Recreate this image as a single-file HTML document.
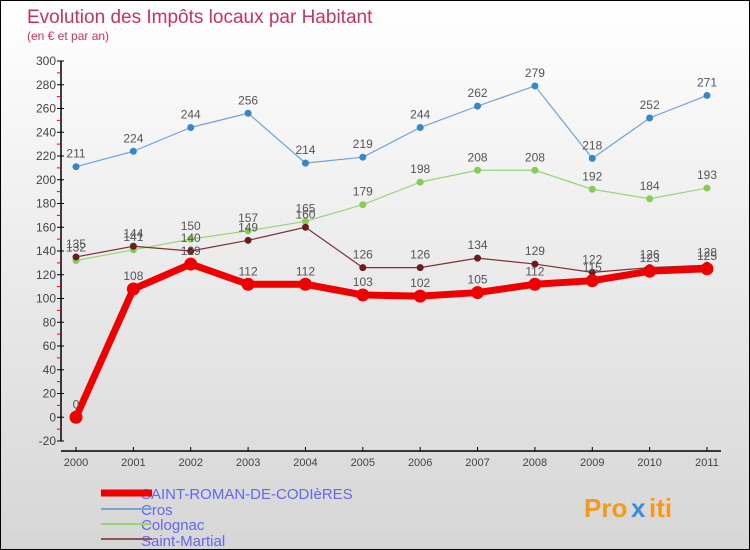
<!DOCTYPE html>
<html><head><meta charset="utf-8"><style>
body{margin:0}
#c{width:750px;height:550px;position:relative;overflow:hidden;background:linear-gradient(#ffffff,#d6d6d6);box-sizing:border-box;border:1px solid #000;font-family:"Liberation Sans",sans-serif}
svg text{font-family:"Liberation Sans",sans-serif}
</style></head><body>
<div id="c">
<svg id="s" width="750" height="550" style="position:absolute;left:0;top:0">
<text x="26" y="22" font-size="19" fill="#c8335e">Evolution des Impôts locaux par Habitant</text>
<text x="26" y="39" font-size="12" fill="#c8335e">(en € et par an)</text>
<g id="ax"></g><g id="ser"></g>
<text x="140" y="498" font-size="15" fill="#6666ee">SAINT-ROMAN-DE-CODIèRES</text>
<text x="140" y="514" font-size="15" fill="#6666ee">Cros</text>
<text x="140" y="529" font-size="15" fill="#6666ee">Colognac</text>
<text x="140" y="545" font-size="15" fill="#6666ee">Saint-Martial</text>
<line x1="100" y1="492" x2="151" y2="492" stroke="#ee0000" stroke-width="7"/>
<line x1="100" y1="508" x2="151" y2="508" stroke="#7aa6cc" stroke-width="2"/>
<line x1="100" y1="523" x2="151" y2="523" stroke="#99d477" stroke-width="2"/>
<line x1="100" y1="538" x2="151" y2="538" stroke="#8a5555" stroke-width="2"/>
<g font-size="26" font-weight="bold">
<text x="583" y="516" fill="#f39a1e">Pro</text><text x="630" y="516" fill="#3a8fd8">x</text><text x="648" y="516" fill="#f39a1e">iti</text></g>
</svg>
</div>
<script>
const years=[2000,2001,2002,2003,2004,2005,2006,2007,2008,2009,2010,2011];
const yTicks=[-20,0,20,40,60,80,100,120,140,160,180,200,220,240,260,280,300];
const saintRoman=[0,108,129,112,112,103,102,105,112,115,123,125];
const cros=[211,224,244,256,214,219,244,262,279,218,252,271];
const colognac=[132,141,150,157,165,179,198,208,208,192,184,193];
const saintMartial=[135,144,140,149,160,126,126,134,129,122,126,128];
const NS="http://www.w3.org/2000/svg";
const X=i=>75+i*(706-75)/11;
const Y=v=>416.25-v*1.1875;
function mk(t,a,p){const e=document.createElementNS(NS,t);for(const k in a)e.setAttribute(k,a[k]);p.appendChild(e);return e;}
const ax=document.getElementById('ax');
let l=mk('line',{x1:60,y1:60,x2:60,y2:440,stroke:'#000','stroke-width':1.5},ax);


l=mk('line',{x1:60,y1:450,x2:720,y2:450,stroke:'#000','stroke-width':1.5},ax);


yTicks.forEach(v=>{
  const t=mk('line',{x1:56,y1:Y(v),x2:63,y2:Y(v),stroke:'#000'},ax);
  
  
  const m=mk('line',{x1:56,y1:Y(v+10),x2:60,y2:Y(v+10),stroke:'#e00'},ax);
  if(v===300)m.remove();
  const tx=mk('text',{x:55,y:Y(v)+4,'text-anchor':'end','font-size':12,fill:'#444'},ax);
  tx.textContent=v;
  
  
});
years.forEach((yr,i)=>{
  mk('line',{x1:X(i),y1:446,x2:X(i),y2:450,stroke:'#000'},ax);
  const tx=mk('text',{x:X(i),y:465,'text-anchor':'middle','font-size':11,fill:'#444'},ax);
  tx.textContent=yr;
  
  
});
const ser=document.getElementById('ser');
function draw(vals,color,dot,w,r,name){
  const g=mk('g',{},ser);
  
  
  mk('polyline',{points:vals.map((v,i)=>X(i)+','+Y(v)).join(' '),fill:'none',stroke:color,'stroke-width':w,'stroke-linejoin':'round'},g);
  vals.forEach((v,i)=>{
    const c=mk('circle',{cx:X(i),cy:Y(v),r:r,fill:dot},g);
    
    
    const t=mk('text',{x:X(i),y:Y(v)-9,'text-anchor':'middle','font-size':12,fill:'#555'},g);
    t.textContent=v;
  });
}
draw(cros,'#6fa3d3','#3a85c6',1.2,3.5,'cros');
draw(colognac,'#99d477','#88cc55',1.2,3.5,'colognac');
draw(saintMartial,'#7a3333','#6a1d1d',1.2,3.5,'saint-martial');
draw(saintRoman,'#ee0000','#ee0000',7,6.5,'saint-roman');
</script>
</body></html>
